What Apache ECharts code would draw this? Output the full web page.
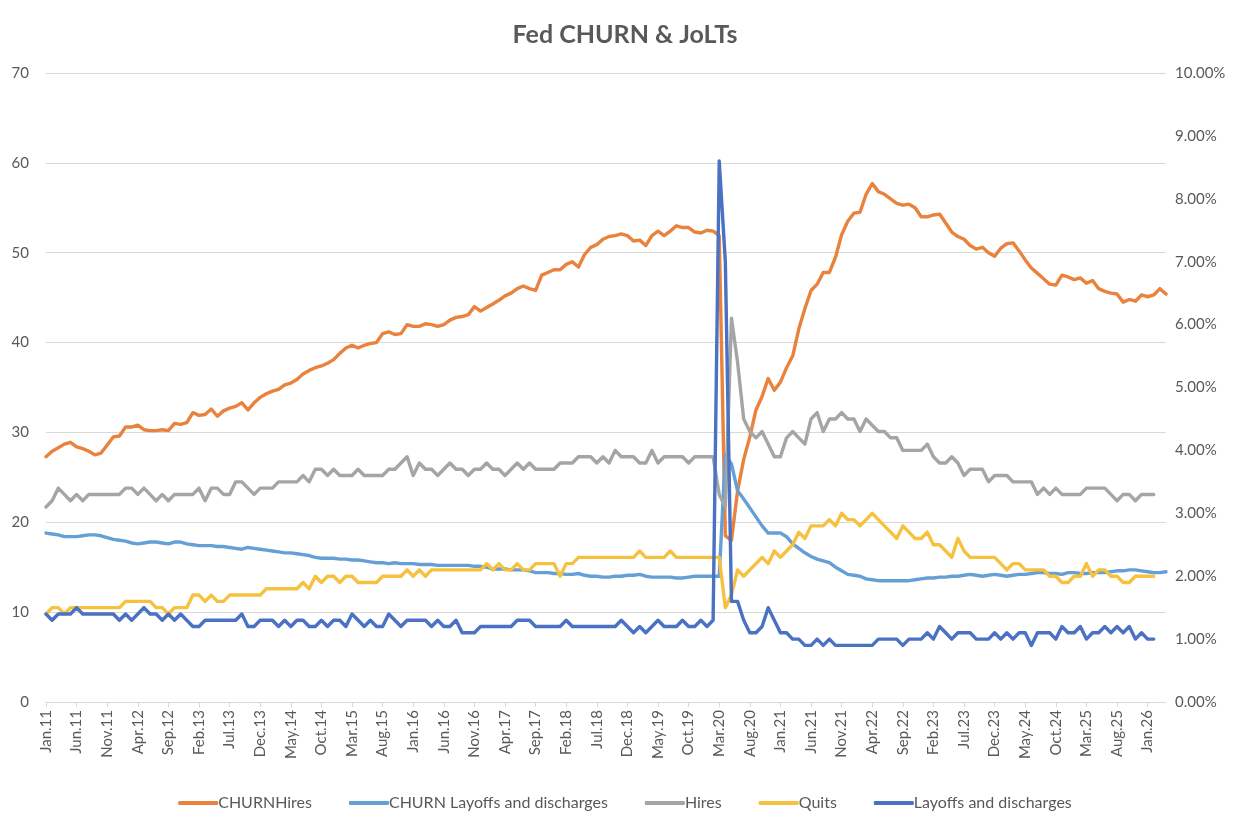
<!DOCTYPE html>
<html>
<head>
<meta charset="utf-8">
<script src="https://cdn.jsdelivr.net/npm/echarts@6/dist/echarts.min.js"></script>
<style>
html,body{margin:0;padding:0;background:#fff;}
#chart{width:1250px;height:828px;}
</style>
</head>
<body>
<div id="chart"></div>
<script>
// ---- categories (monthly, Jan.11 .. Apr.26) ----
const monthNames = ['Jan','Feb','Mar','Apr','May','Jun','Jul','Aug','Sep','Oct','Nov','Dec'];
const startYear = 2011;
const monthCount = 184;
const categories = [];
for (let k = 0; k < monthCount; k++) {
  const y = startYear + Math.floor(k / 12);
  categories.push(monthNames[k % 12] + '.' + String(y).slice(2));
}

// ---- series values ----
// CHURNHires (left axis)
const churnHires = [
  27.3,27.9,28.3,28.7,28.9,28.4,28.2,27.9,27.5,27.7,28.6,29.5,29.6,30.6,30.6,30.8,30.3,30.2,30.2,30.3,30.2,31.0,
  30.9,31.1,32.2,31.9,32.0,32.6,31.8,32.4,32.7,32.9,33.3,32.5,33.3,33.9,34.3,34.6,34.8,35.3,35.5,35.9,36.5,36.9,37.2,37.4,
  37.7,38.1,38.8,39.4,39.7,39.4,39.7,39.9,40.0,41.0,41.2,40.9,41.0,42.0,41.8,41.8,42.1,42.0,41.8,42.0,42.5,42.8,42.9,
  43.1,44.0,43.5,43.9,44.3,44.7,45.2,45.5,46.0,46.3,46.0,45.8,47.5,47.8,48.1,48.1,48.7,49.0,48.4,49.8,50.6,50.9,51.5,
  51.8,51.9,52.1,51.9,51.3,51.4,50.8,51.9,52.4,51.9,52.4,53.0,52.8,52.8,52.3,52.2,52.5,52.4,51.9,
  18.5,18.0,23.5,27.0,29.5,32.5,34.0,36.0,34.7,35.6,37.2,
  38.5,41.5,43.8,45.8,46.5,47.8,47.8,49.5,52.0,53.5,54.4,54.5,56.5,57.7,
  56.8,56.5,56.0,55.5,55.3,55.4,55.0,54.0,54.0,54.2,54.3,53.3,52.3,51.8,51.5,50.8,50.4,50.6,50.0,
  49.6,50.5,51.0,51.1,50.2,49.2,48.3,47.7,47.1,46.5,46.4,47.5,47.3,47.0,47.2,46.6,46.9,46.0,45.7,45.5,45.4,44.5,44.8,44.6,45.3,45.1,45.3,46.0,45.4
];
// CHURN Layoffs and discharges (left axis)
const churnLayoffs = [
  18.8,18.7,18.6,18.4,18.4,18.4,18.5,18.6,18.6,18.5,18.3,18.1,18.0,17.9,17.7,17.6,17.7,17.8,17.8,17.7,17.6,17.8,
  17.8,17.6,17.5,17.4,17.4,17.4,17.3,17.3,17.2,17.1,17.0,17.2,17.1,17.0,16.9,16.8,16.7,16.6,16.6,16.5,16.4,16.3,16.1,16.0,
  16.0,16.0,15.9,15.9,15.8,15.8,15.7,15.6,15.5,15.5,15.4,15.5,15.4,15.4,15.4,15.3,15.3,15.3,15.2,15.2,15.2,15.2,15.2,
  15.2,15.1,15.1,15.0,14.8,14.8,14.8,14.7,14.7,14.7,14.6,14.4,14.4,14.4,14.3,14.3,14.2,14.2,14.3,14.1,14.0,14.0,13.9,
  13.9,14.0,14.0,14.1,14.1,14.2,14.0,13.9,13.9,13.9,13.9,13.8,13.8,13.9,14.0,14.0,14.0,14.0,14.0,
  27.5,26.5,23.5,22.6,21.6,20.6,19.6,18.8,18.8,18.8,18.4,
  17.6,17.1,16.6,16.2,15.9,15.7,15.5,15.0,14.6,14.2,14.1,14.0,13.7,13.6,
  13.5,13.5,13.5,13.5,13.5,13.5,13.6,13.7,13.8,13.8,13.9,13.9,14.0,14.0,14.1,14.2,14.1,14.0,14.1,
  14.2,14.1,14.0,14.1,14.2,14.2,14.3,14.4,14.4,14.3,14.3,14.2,14.4,14.4,14.3,14.3,14.4,14.4,14.4,14.5,14.6,14.6,14.7,14.7,14.6,14.5,14.4,14.4,14.5
];
// Hires rate, % (right axis)
const hires = [
  3.1,3.2,3.4,3.3,3.2,3.3,3.2,3.3,3.3,3.3,3.3,3.3,3.3,3.4,3.4,3.3,3.4,3.3,3.2,3.3,3.2,3.3,
  3.3,3.3,3.3,3.4,3.2,3.4,3.4,3.3,3.3,3.5,3.5,3.4,3.3,3.4,3.4,3.4,3.5,3.5,3.5,3.5,3.6,3.5,3.7,3.7,
  3.6,3.7,3.6,3.6,3.6,3.7,3.6,3.6,3.6,3.6,3.7,3.7,3.8,3.9,3.6,3.8,3.7,3.7,3.6,3.7,3.8,3.7,3.7,
  3.6,3.7,3.7,3.8,3.7,3.7,3.6,3.7,3.8,3.7,3.8,3.7,3.7,3.7,3.7,3.8,3.8,3.8,3.9,3.9,3.9,3.8,3.9,
  3.8,4.0,3.9,3.9,3.9,3.8,3.8,4.0,3.8,3.9,3.9,3.9,3.9,3.8,3.9,3.9,3.9,3.9,3.3,
  3.1,6.1,5.4,4.5,4.3,4.2,4.3,4.1,3.9,3.9,4.2,
  4.3,4.2,4.1,4.5,4.6,4.3,4.5,4.5,4.6,4.5,4.5,4.3,4.5,4.4,
  4.3,4.3,4.2,4.2,4.0,4.0,4.0,4.0,4.1,3.9,3.8,3.8,3.9,3.8,3.6,3.7,3.7,3.7,3.5,
  3.6,3.6,3.6,3.5,3.5,3.5,3.5,3.3,3.4,3.3,3.4,3.3,3.3,3.3,3.3,3.4,3.4,3.4,3.4,3.3,3.2,3.3,3.3,3.2,3.3,3.3,3.3,
  null,null
];
// Quits rate, % (right axis)
const quits = [
  1.4,1.5,1.5,1.4,1.5,1.5,1.5,1.5,1.5,1.5,1.5,1.5,1.5,1.6,1.6,1.6,1.6,1.6,1.5,1.5,1.4,1.5,
  1.5,1.5,1.7,1.7,1.6,1.7,1.6,1.6,1.7,1.7,1.7,1.7,1.7,1.7,1.8,1.8,1.8,1.8,1.8,1.8,1.9,1.8,2.0,1.9,
  2.0,2.0,1.9,2.0,2.0,1.9,1.9,1.9,1.9,2.0,2.0,2.0,2.0,2.1,2.0,2.1,2.0,2.1,2.1,2.1,2.1,2.1,2.1,
  2.1,2.1,2.1,2.2,2.1,2.2,2.1,2.1,2.2,2.1,2.1,2.2,2.2,2.2,2.2,2.0,2.2,2.2,2.3,2.3,2.3,2.3,2.3,
  2.3,2.3,2.3,2.3,2.3,2.4,2.3,2.3,2.3,2.3,2.4,2.3,2.3,2.3,2.3,2.3,2.3,2.3,2.3,
  1.5,1.7,2.1,2.0,2.1,2.2,2.3,2.2,2.4,2.3,2.4,
  2.5,2.7,2.6,2.8,2.8,2.8,2.9,2.8,3.0,2.9,2.9,2.8,2.9,3.0,
  2.9,2.8,2.7,2.6,2.8,2.7,2.6,2.6,2.7,2.5,2.5,2.4,2.3,2.6,2.4,2.3,2.3,2.3,2.3,
  2.3,2.2,2.1,2.2,2.2,2.1,2.1,2.1,2.1,2.0,2.0,1.9,1.9,2.0,2.0,2.2,2.0,2.1,2.1,2.0,2.0,1.9,1.9,2.0,2.0,2.0,2.0,
  null,null
];
// Layoffs and discharges rate, % (right axis)
const layoffs = [
  1.4,1.3,1.4,1.4,1.4,1.5,1.4,1.4,1.4,1.4,1.4,1.4,1.3,1.4,1.3,1.4,1.5,1.4,1.4,1.3,1.4,1.3,
  1.4,1.3,1.2,1.2,1.3,1.3,1.3,1.3,1.3,1.3,1.4,1.2,1.2,1.3,1.3,1.3,1.2,1.3,1.2,1.3,1.3,1.2,1.2,1.3,
  1.2,1.3,1.3,1.2,1.4,1.3,1.2,1.3,1.2,1.2,1.4,1.3,1.2,1.3,1.3,1.3,1.3,1.2,1.3,1.2,1.2,1.3,1.1,
  1.1,1.1,1.2,1.2,1.2,1.2,1.2,1.2,1.3,1.3,1.3,1.2,1.2,1.2,1.2,1.2,1.3,1.2,1.2,1.2,1.2,1.2,1.2,
  1.2,1.2,1.3,1.2,1.1,1.2,1.1,1.2,1.3,1.2,1.2,1.2,1.3,1.2,1.2,1.3,1.2,1.3,8.6,
  7.0,1.6,1.6,1.3,1.1,1.1,1.2,1.5,1.3,1.1,1.1,
  1.0,1.0,0.9,0.9,1.0,0.9,1.0,0.9,0.9,0.9,0.9,0.9,0.9,0.9,
  1.0,1.0,1.0,1.0,0.9,1.0,1.0,1.0,1.1,1.0,1.2,1.1,1.0,1.1,1.1,1.1,1.0,1.0,1.0,
  1.1,1.0,1.1,1.0,1.1,1.1,0.9,1.1,1.1,1.1,1.0,1.2,1.1,1.1,1.2,1.0,1.1,1.1,1.2,1.1,1.2,1.1,1.2,1.0,1.1,1.0,1.0,
  null,null
];

// ---- axis ticks ----
const leftTicks = {min: 0, max: 70, interval: 10};
const rightTicks = {min: 0, max: 10, interval: 1};
const seriesNames = ['CHURNHires','CHURN Layoffs and discharges','Hires','Quits','Layoffs and discharges'];
const seriesColors = ['#E8823C','#659FD6','#A5A5A5','#F7C140','#4A71C2'];

const FONT = 'Lato, "Open Sans", sans-serif';
const chart = echarts.init(document.getElementById('chart'), null, {renderer: 'canvas'});

function mkSeries(idx, data, yIdx) {
  return {
    name: seriesNames[idx],
    type: 'line',
    yAxisIndex: yIdx,
    data: data,
    showSymbol: false,
    symbol: 'none',
    smooth: false,
    connectNulls: false,
    lineStyle: {width: 3.4, color: seriesColors[idx], cap: 'round', join: 'round'},
    itemStyle: {color: seriesColors[idx]},
    emphasis: {disabled: true}
  };
}

chart.setOption({
  animation: false,
  backgroundColor: '#ffffff',
  title: {
    text: 'Fed CHURN & JoLTs',
    left: 'center',
    top: 17,
    textStyle: {fontFamily: FONT, fontSize: 25, fontWeight: 'bold', color: '#595959'}
  },
  legend: {
    top: 790,
    left: 'center',
    itemWidth: 40,
    itemHeight: 4,
    itemGap: 37,
    icon: 'roundRect',
    textStyle: {fontFamily: FONT, fontSize: 16, color: '#595959', padding: [0, 0, 0, -5]},
    data: seriesNames
  },
  grid: {left: 46, right: 84, top: 73, bottom: 126, containLabel: false},
  xAxis: {
    type: 'category',
    data: categories,
    boundaryGap: false,
    axisLine: {lineStyle: {color: '#d9d9d9', width: 1}},
    axisTick: {show: true, interval: 4, length: 5, lineStyle: {color: '#d9d9d9'}},
    axisLabel: {interval: 4, rotate: 90, color: '#595959', fontFamily: FONT, fontSize: 15, margin: 8}
  },
  yAxis: [
    {
      type: 'value', min: leftTicks.min, max: leftTicks.max, interval: leftTicks.interval,
      axisLine: {show: false}, axisTick: {show: false},
      axisLabel: {color: '#595959', fontFamily: FONT, fontSize: 15, margin: 17},
      splitLine: {lineStyle: {color: '#d9d9d9', width: 1}}
    },
    {
      type: 'value', position: 'right', min: rightTicks.min, max: rightTicks.max, interval: rightTicks.interval,
      axisLine: {show: false}, axisTick: {show: false},
      axisLabel: {color: '#595959', fontFamily: FONT, fontSize: 15, margin: 9, formatter: v => v.toFixed(2) + '%'},
      splitLine: {show: false}
    }
  ],
  series: [
    mkSeries(0, churnHires, 0),
    mkSeries(1, churnLayoffs, 0),
    mkSeries(2, hires, 1),
    mkSeries(3, quits, 1),
    mkSeries(4, layoffs, 1)
  ]
});
</script>
</body>
</html>
